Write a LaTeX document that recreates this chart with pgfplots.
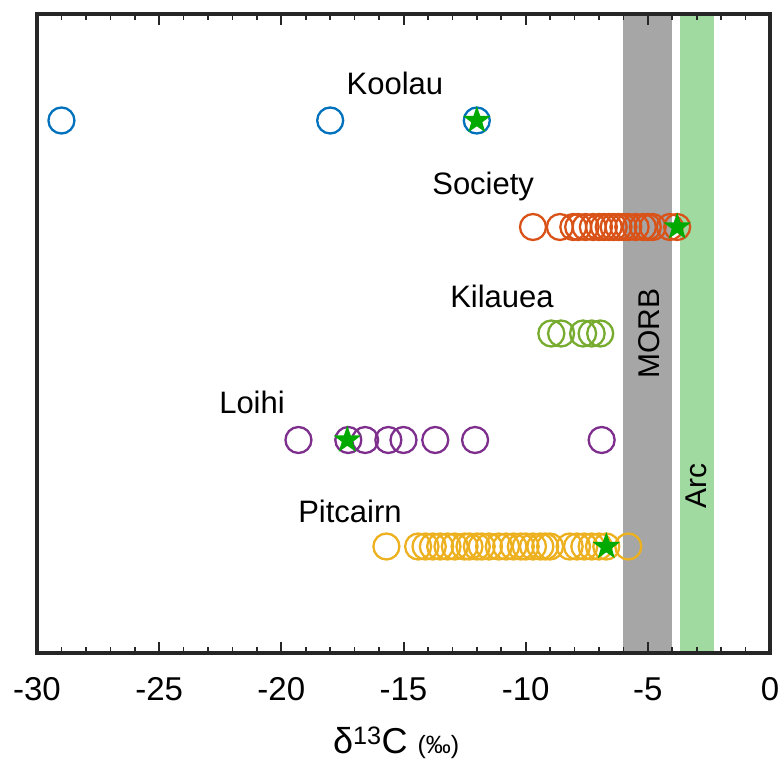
\documentclass[border=0pt]{standalone}
\usepackage{pgfplots}
\pgfplotsset{compat=1.18}
\usepackage{fontspec}
\setmainfont{Liberation Sans}
\definecolor{cblue}{rgb}{0,0.447,0.741}
\definecolor{corange}{rgb}{0.85,0.325,0.098}
\definecolor{cyellow}{rgb}{0.929,0.694,0.125}
\definecolor{cpurple}{rgb}{0.494,0.184,0.556}
\definecolor{cgreen}{rgb}{0.466,0.674,0.188}
\definecolor{cstar}{RGB}{0,170,0}
\definecolor{cmorb}{RGB}{166,166,166}
\definecolor{carc}{RGB}{160,218,160}
\definecolor{cframe}{RGB}{38,38,38}
\pgfdeclareplotmark{fstar}{%
  \pgfpathmoveto{\pgfpointpolar{90}{\pgfplotmarksize}}%
  \pgfpathlineto{\pgfpointpolar{126}{0.40\pgfplotmarksize}}%
  \pgfpathlineto{\pgfpointpolar{162}{\pgfplotmarksize}}%
  \pgfpathlineto{\pgfpointpolar{198}{0.40\pgfplotmarksize}}%
  \pgfpathlineto{\pgfpointpolar{234}{\pgfplotmarksize}}%
  \pgfpathlineto{\pgfpointpolar{270}{0.40\pgfplotmarksize}}%
  \pgfpathlineto{\pgfpointpolar{306}{\pgfplotmarksize}}%
  \pgfpathlineto{\pgfpointpolar{342}{0.40\pgfplotmarksize}}%
  \pgfpathlineto{\pgfpointpolar{18}{\pgfplotmarksize}}%
  \pgfpathlineto{\pgfpointpolar{54}{0.40\pgfplotmarksize}}%
  \pgfpathclose\pgfusepathqfill}
\begin{document}
\begin{tikzpicture}
\begin{axis}[
  scale only axis, width=733pt, height=639pt,
  xmin=-30, xmax=0, ymin=0, ymax=6,
  ytick=\empty,
  xtick={-30,-25,-20,-15,-10,-5,0},
  xticklabels={-30,-25,-20,-15,-10,-5,0},
  major tick length=0pt, minor tick length=0pt,
  xticklabel style={font=\fontsize{33}{35}\selectfont, yshift=-21pt},
  unbounded coords=jump,
  clip=false,
]
\addplot[fill=cmorb, draw=none] coordinates {(-6,0) (-4,0) (-4,6) (-6,6)} --cycle;
\addplot[fill=carc, draw=none] coordinates {(-3.7,0) (-2.3,0) (-2.3,6) (-3.7,6)} --cycle;

% minor tick marks, bottom and top
\addplot[cframe, line width=1.6pt, no marks] coordinates {
(-29,0) (-29,0.06) (nan,nan) (-28,0) (-28,0.06) (nan,nan) (-27,0) (-27,0.06) (nan,nan) (-26,0) (-26,0.06) (nan,nan)
(-24,0) (-24,0.06) (nan,nan) (-23,0) (-23,0.06) (nan,nan) (-22,0) (-22,0.06) (nan,nan) (-21,0) (-21,0.06) (nan,nan)
(-19,0) (-19,0.06) (nan,nan) (-18,0) (-18,0.06) (nan,nan) (-17,0) (-17,0.06) (nan,nan) (-16,0) (-16,0.06) (nan,nan)
(-14,0) (-14,0.06) (nan,nan) (-13,0) (-13,0.06) (nan,nan) (-12,0) (-12,0.06) (nan,nan) (-11,0) (-11,0.06) (nan,nan)
(-9,0) (-9,0.06) (nan,nan) (-8,0) (-8,0.06) (nan,nan) (-7,0) (-7,0.06) (nan,nan) (-6,0) (-6,0.06) (nan,nan)
(-4,0) (-4,0.06) (nan,nan) (-3,0) (-3,0.06) (nan,nan) (-2,0) (-2,0.06) (nan,nan) (-1,0) (-1,0.06) (nan,nan)
(-29,6) (-29,5.94) (nan,nan) (-28,6) (-28,5.94) (nan,nan) (-27,6) (-27,5.94) (nan,nan) (-26,6) (-26,5.94) (nan,nan)
(-24,6) (-24,5.94) (nan,nan) (-23,6) (-23,5.94) (nan,nan) (-22,6) (-22,5.94) (nan,nan) (-21,6) (-21,5.94) (nan,nan)
(-19,6) (-19,5.94) (nan,nan) (-18,6) (-18,5.94) (nan,nan) (-17,6) (-17,5.94) (nan,nan) (-16,6) (-16,5.94) (nan,nan)
(-14,6) (-14,5.94) (nan,nan) (-13,6) (-13,5.94) (nan,nan) (-12,6) (-12,5.94) (nan,nan) (-11,6) (-11,5.94) (nan,nan)
(-9,6) (-9,5.94) (nan,nan) (-8,6) (-8,5.94) (nan,nan) (-7,6) (-7,5.94) (nan,nan) (-6,6) (-6,5.94) (nan,nan)
(-4,6) (-4,5.94) (nan,nan) (-3,6) (-3,5.94) (nan,nan) (-2,6) (-2,5.94) (nan,nan) (-1,6) (-1,5.94)};
% major tick marks
\addplot[cframe, line width=2pt, no marks] coordinates {
(-25,0) (-25,0.105) (nan,nan) (-20,0) (-20,0.105) (nan,nan) (-15,0) (-15,0.105) (nan,nan)
(-10,0) (-10,0.105) (nan,nan) (-5,0) (-5,0.105) (nan,nan)
(-25,6) (-25,5.895) (nan,nan) (-20,6) (-20,5.895) (nan,nan) (-15,6) (-15,5.895) (nan,nan)
(-10,6) (-10,5.895) (nan,nan) (-5,6) (-5,5.895)};

% Koolau
\addplot[only marks, mark=o, mark size=13pt, line width=2.3pt, cblue] coordinates {
(-29,5) (-18,5) (-12,5)};
% Society
\addplot[only marks, mark=o, mark size=13pt, line width=2.3pt, corange] coordinates {
(-9.7,4) (-8.6,4) (-8.05,4) (-7.85,4) (-7.55,4) (-7.25,4) (-7.0,4) (-6.8,4) (-6.6,4)
(-6.4,4) (-6.2,4) (-6.0,4) (-5.8,4) (-5.5,4) (-5.2,4) (-5.0,4) (-4.8,4) (-4.1,4) (-3.8,4)};
% Kilauea
\addplot[only marks, mark=o, mark size=13pt, line width=2.3pt, cgreen] coordinates {
(-8.95,3) (-8.55,3) (-7.65,3) (-7.3,3) (-6.95,3)};
% Loihi
\addplot[only marks, mark=o, mark size=13pt, line width=2.3pt, cpurple] coordinates {
(-19.3,2) (-17.26,2) (-16.57,2) (-15.62,2) (-15.0,2) (-13.7,2) (-12.07,2) (-6.89,2)};
% Pitcairn
\addplot[only marks, mark=o, mark size=13pt, line width=2.3pt, cyellow] coordinates {
(-15.7,1) (-14.4,1) (-14.1,1) (-13.8,1) (-13.5,1) (-13.2,1) (-12.9,1) (-12.5,1)
(-12.3,1) (-12.0,1) (-11.8,1) (-11.5,1) (-11.1,1) (-10.8,1) (-10.5,1) (-10.2,1)
(-10.0,1) (-9.7,1) (-9.4,1) (-9.2,1) (-9.0,1) (-8.2,1) (-7.9,1) (-7.6,1) (-7.3,1)
(-7.0,1) (-6.7,1) (-5.8,1)};
% Stars
\addplot[only marks, mark=fstar, mark size=14.5pt, cstar] coordinates {
(-12,5) (-3.8,4) (-17.3,2) (-6.7,1)};

\draw[line width=3.5pt, cframe] (axis cs:-30,0) rectangle (axis cs:0,6);

\node[font=\fontsize{31}{33}\selectfont] at (axis cs:-15.35,5.35) {Koolau};
\node[font=\fontsize{31}{33}\selectfont] at (axis cs:-11.74,4.38) {Society};
\node[font=\fontsize{31}{33}\selectfont] at (axis cs:-10.97,3.35) {Kilauea};
\node[font=\fontsize{31}{33}\selectfont] at (axis cs:-21.2,2.35) {Loihi};
\node[font=\fontsize{31}{33}\selectfont] at (axis cs:-17.19,1.33) {Pitcairn};
\node[font=\fontsize{30}{32}\selectfont, rotate=90] at (axis cs:-4.95,3.0) {MORB};
\node[font=\fontsize{30}{32}\selectfont, rotate=90] at (axis cs:-3.0,1.57) {Arc};
\node[anchor=base] at (axis cs:-15.3,-0.94) {\fontsize{36}{38}\selectfont δ\textsuperscript{13}C {\fontsize{25}{27}\selectfont(‰)}};
\end{axis}
\pgfresetboundingbox
\path (-37pt,-117pt) rectangle (746pt,653pt);
\end{tikzpicture}
\end{document}
